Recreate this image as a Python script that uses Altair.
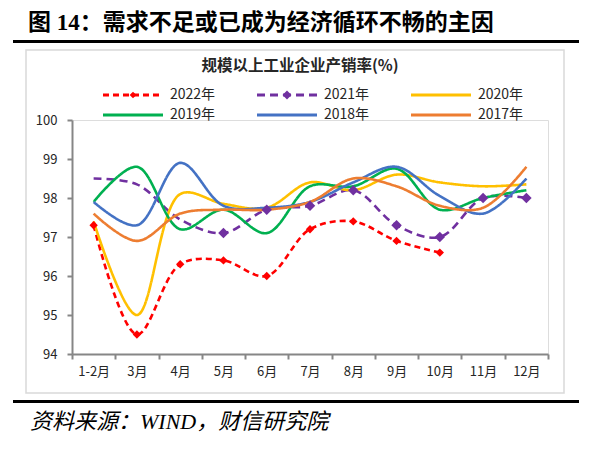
import altair as alt
import pandas as pd

months = ["1-2月", "3月", "4月", "5月", "6月", "7月", "8月", "9月", "10月", "11月", "12月"]
years = ["2022年", "2021年", "2020年", "2019年", "2018年", "2017年"]
v2022 = [97.3, 94.5, 96.3, 96.4, 96.0, 97.2, 97.4, 96.9, 96.6, None, None]
v2021 = [98.5, 98.35, 97.45, 97.1, 97.7, 97.8, 98.2, 97.3, 97.0, 98.0, 98.0]
v2020 = [97.4, 95.0, 98.1, 97.85, 97.75, 98.4, 98.2, 98.6, 98.4, 98.3, 98.35]
v2019 = [97.9, 98.8, 97.2, 97.7, 97.1, 98.3, 98.3, 98.75, 97.7, 98.0, 98.2]
v2018 = [97.9, 97.3, 98.9, 97.8, 97.75, 97.9, 98.4, 98.8, 98.05, 97.6, 98.5]
v2017 = [97.6, 96.9, 97.6, 97.7, 97.7, 97.9, 98.5, 98.3, 97.8, 97.75, 98.8]
series = [v2022, v2021, v2020, v2019, v2018, v2017]
# months whose 2021 marker is not shown in the reference
unmarked_2021 = ["1-2月", "3月", "4月"]
colors = ["#FF0000", "#7030A0", "#FFC000", "#00B050", "#4472C4", "#ED7D31"]
dashes = [[6, 4], [8, 5], [1, 0], [1, 0], [1, 0], [1, 0]]
y_ticks = [94, 95, 96, 97, 98, 99, 100]
title = "图 14：需求不足或已成为经济循环不畅的主因"
subtitle = "规模以上工业企业产销率(%)"
source = "资料来源：WIND，财信研究院"

rows = []
for y, vals in zip(years, series):
    for m, v in zip(months, vals):
        if v is not None:
            marked = y == "2022年" or (y == "2021年" and m not in unmarked_2021)
            rows.append({"year": y, "month": m, "v": v, "marked": marked})
df = pd.DataFrame(rows)

# plot area origin on the page is (72, 120)
OX, OY = 72, 120
W, H = 476, 234
CJK = "Noto Sans CJK SC"
one = pd.DataFrame({"a": [0]})

xenc = alt.X("month:N", sort=months,
             scale=alt.Scale(type="band", domain=months, paddingInner=0, paddingOuter=0),
             bandPosition=0.5,
             axis=alt.Axis(title=None, labelAngle=0, tickBand="extent", domainColor="#868686",
                           domainWidth=2, tickColor="#868686", tickWidth=2, tickSize=5,
                           labelPadding=6, labelFont=CJK, labelFontSize=13, labelColor="#262626",
                           grid=False))
yenc = alt.Y("v:Q", scale=alt.Scale(domain=[94, 100], nice=False, zero=False),
             axis=alt.Axis(title=None, values=y_ticks, format="d", domainColor="#868686",
                           domainWidth=2, tickColor="#868686", tickWidth=2, tickSize=5,
                           labelPadding=10, labelFont=CJK, labelFontSize=13, labelColor="#262626",
                           grid=False))
color = alt.Color("year:N", scale=alt.Scale(domain=years, range=colors), legend=None)
sdash = alt.StrokeDash("year:N", scale=alt.Scale(domain=years, range=dashes), legend=None)

lines = alt.Chart(df).mark_line(interpolate="catmull-rom", strokeWidth=2.6).encode(
    x=xenc, y=yenc, color=color, strokeDash=sdash, detail="year:N")

pts = alt.Chart(df).transform_filter(
    alt.datum.marked
).mark_point(shape="diamond", filled=True, opacity=1).encode(
    x=xenc, y=yenc, color=color,
    size=alt.Size("year:N", scale=alt.Scale(domain=["2022年", "2021年"], range=[70, 110]), legend=None))

layers = []
# frame
layers.append(alt.Chart(one).mark_rect(fill=None, stroke="#d9d9d9", strokeWidth=1.5).encode(
    x=alt.value(26 - OX), x2=alt.value(564 - OX), y=alt.value(50 - OY), y2=alt.value(393 - OY)))
for yy in (41.5, 401.5):
    layers.append(alt.Chart(one).mark_rule(color="black", strokeWidth=3.2).encode(
        x=alt.value(13 - OX), x2=alt.value(579 - OX), y=alt.value(yy - OY)))
layers.append(alt.Chart(one).mark_text(text=title, align="left", baseline="middle", fontSize=23,
                                       fontWeight="bold", font="Liberation Serif, " + CJK,
                                       color="black").encode(
    x=alt.value(28 - OX), y=alt.value(23 - OY)))
layers.append(alt.Chart(one).mark_text(text=subtitle, align="center", baseline="middle", fontSize=15.5,
                                       fontWeight="bold", font=CJK, color="#262626").encode(
    x=alt.value(300 - OX), y=alt.value(66 - OY)))
layers.append(alt.Chart(one).mark_text(text=source, align="left", baseline="middle", fontSize=22,
                                       fontStyle="italic", font="Liberation Serif, " + CJK,
                                       color="black").encode(
    x=alt.value(30 - OX), y=alt.value(422 - OY)))

# manual legend
col_x = [103, 257, 411]
row_y = [95, 115]
for i, y in enumerate(years):
    cx = col_x[i % 3] - OX
    ry = row_y[i // 3] - OY
    layers.append(alt.Chart(one).mark_rule(color=colors[i], strokeWidth=2.8, strokeDash=dashes[i]).encode(
        x=alt.value(cx), x2=alt.value(cx + 60), y=alt.value(ry)))
    if i < 2:
        layers.append(alt.Chart(one).mark_point(shape="diamond", filled=True, opacity=1, color=colors[i],
                                                size=45 if i == 0 else 80).encode(
            x=alt.value(cx + 30), y=alt.value(ry)))
    layers.append(alt.Chart(one).mark_text(text=y, align="left", baseline="middle", fontSize=14,
                                           font=CJK, color="#262626").encode(
        x=alt.value(cx + 67), y=alt.value(ry)))

chart = alt.layer(lines, pts, *layers).properties(
    width=W, height=H,
    autosize=alt.AutoSizeParams(type="none"),
    padding={"left": 64, "top": 112, "right": 50, "bottom": 93},
).configure_view(stroke=None).configure(background="white")

chart.save("out.html", embed_options={"renderer": "svg", "actions": False})
